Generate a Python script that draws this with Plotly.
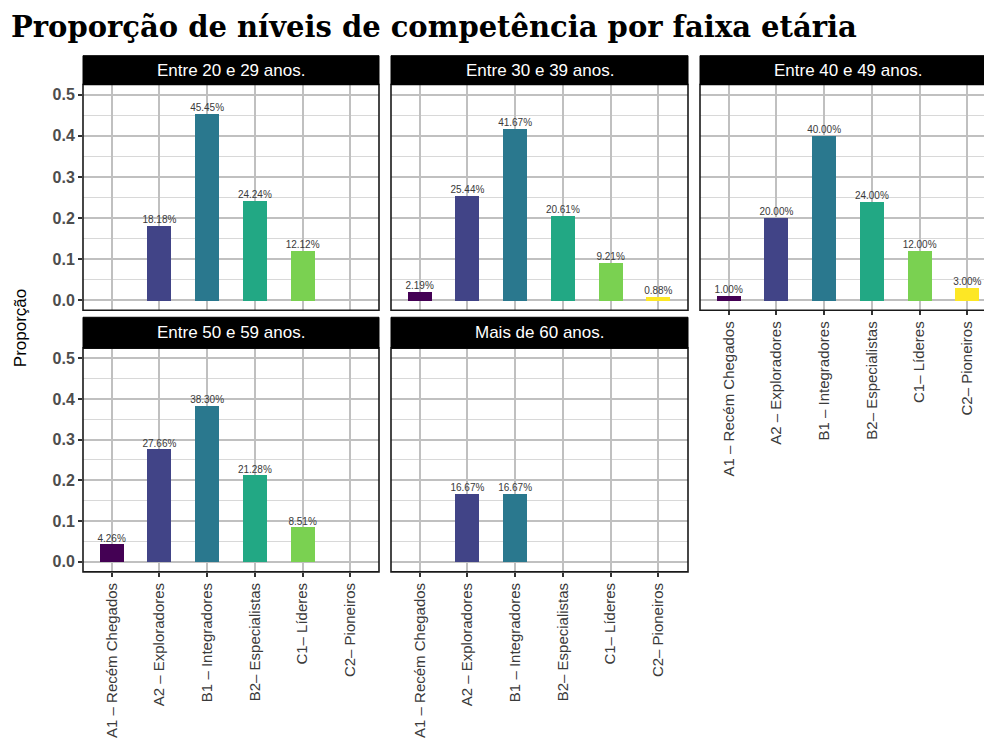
import plotly.graph_objects as go

# Competence levels (x categories) and the five age groups (facets)
niveis = ["A1 – Recém Chegados", "A2 – Exploradores", "B1 – Integradores",
          "B2– Especialistas", "C1– Líderes", "C2– Pioneiros"]
faixas = ["Entre 20 e 29 anos.", "Entre 30 e 39 anos.", "Entre 40 e 49 anos.",
          "Entre 50 e 59 anos.", "Mais de 60 anos."]

prop_20_29 = [None, 0.1818, 0.4545, 0.2424, 0.1212, None]
prop_30_39 = [0.0219, 0.2544, 0.4167, 0.2061, 0.0921, 0.0088]
prop_40_49 = [0.0100, 0.2000, 0.4000, 0.2400, 0.1200, 0.0300]
prop_50_59 = [0.0426, 0.2766, 0.3830, 0.2128, 0.0851, None]
prop_60_mais = [None, 0.1667, 0.1667, None, None, None]

series = [prop_20_29, prop_30_39, prop_40_49, prop_50_59, prop_60_mais]

y_ticks = [0.0, 0.1, 0.2, 0.3, 0.4, 0.5]
y_minor = [0.05, 0.15, 0.25, 0.35, 0.45]

cores = ["#440154", "#414487", "#2A788E", "#22A884", "#7AD151", "#FDE725"]

W, H = 984, 738
def fx(px):
    return px / W
def fy(py):
    return 1 - py / H

# panel geometry in pixels: (left, right, top, bottom)
col_x = [(83, 379), (391, 688), (700, 996)]
row_y = [(85, 312), (350, 575)]
strip_y = [(56, 85), (319, 350)]
layout_pos = [(0, 0), (0, 1), (0, 2), (1, 0), (1, 1)]

unit = (379 - 83) / 6.2  # pixels per category

fig = go.Figure()
shapes = []
annotations = []

xs = list(range(len(niveis)))

for i, (vals, nome) in enumerate(zip(series, faixas)):
    r, c = layout_pos[i]
    n = i + 1
    xa = "x" if n == 1 else f"x{n}"
    ya = "y" if n == 1 else f"y{n}"
    fig.add_trace(go.Bar(
        x=xs, y=vals, width=0.5, marker=dict(color=cores, line=dict(width=0)),
        xaxis=xa, yaxis=ya, hoverinfo="skip"))
    txt = [None if v is None else f"{v*100:.2f}%" for v in vals]
    fig.add_trace(go.Scatter(
        x=xs, y=vals, mode="text", text=txt, textposition="top center",
        textfont=dict(family="Liberation Sans", size=10, color="#3a3a3a"),
        xaxis=xa, yaxis=ya, hoverinfo="skip"))

    left, right = col_x[c]
    top, bottom = row_y[r]
    vis_right = min(right, W)
    x_max = -0.6 + (vis_right - left) / unit
    show_x_labels = (r == 1) or (c == 2)
    show_y_labels = (c == 0)

    fig.layout[f"xaxis{n}" if n > 1 else "xaxis"] = dict(
        domain=[fx(left), fx(vis_right)], anchor=ya, range=[-0.6, x_max],
        tickvals=xs, ticktext=niveis, tickangle=-90,
        showticklabels=show_x_labels,
        ticks="outside" if show_x_labels else "", ticklen=4, tickwidth=1.5,
        tickcolor="#333333",
        tickfont=dict(family="Liberation Sans", size=15, color="#3a3a3a"),
        showgrid=True, gridcolor="#c0c0c0", gridwidth=1.8,
        zeroline=False, showline=False, fixedrange=True)
    fig.layout[f"yaxis{n}" if n > 1 else "yaxis"] = dict(
        domain=[fy(bottom), fy(top)], anchor=xa, range=[-0.025, 0.525],
        tickvals=y_ticks, ticktext=[f"<b>{v:.1f}</b>" for v in y_ticks],
        showticklabels=show_y_labels,
        ticks="outside" if show_y_labels else "", ticklen=4, tickwidth=1.5,
        tickcolor="#333333",
        tickfont=dict(family="Liberation Sans", size=16, color="#4d4d4d"),
        showgrid=True, gridcolor="#c0c0c0", gridwidth=1.8,
        minor=dict(tickvals=y_minor, showgrid=True, gridcolor="#d8d8d8",
                   gridwidth=1.2, ticks=""),
        zeroline=False, showline=False, fixedrange=True)

    # panel border
    shapes.append(dict(type="rect", xref="paper", yref="paper",
                       x0=fx(left), x1=fx(right), y0=fy(bottom), y1=fy(top),
                       line=dict(color="#1a1a1a", width=1.6), layer="above"))
    # facet strip
    s_top, s_bot = strip_y[r]
    shapes.append(dict(type="rect", xref="paper", yref="paper",
                       x0=fx(left), x1=fx(right), y0=fy(s_bot), y1=fy(s_top),
                       fillcolor="#000000", line=dict(color="#000000", width=1),
                       layer="above"))
    annotations.append(dict(text=nome, xref="paper", yref="paper",
                            x=fx((left + right) / 2), y=fy((s_top + s_bot) / 2),
                            xanchor="center", yanchor="middle", showarrow=False,
                            font=dict(family="Liberation Sans", size=17,
                                      color="white")))

annotations.append(dict(text="Proporção", xref="paper", yref="paper",
                        x=fx(20), y=fy(330), textangle=-90, showarrow=False,
                        xanchor="center", yanchor="middle",
                        font=dict(family="Liberation Sans", size=17,
                                  color="#000000")))
annotations.append(dict(text="<b>Proporção de níveis de competência por faixa etária</b>",
                        xref="paper", yref="paper", x=fx(9), y=fy(27),
                        xanchor="left", yanchor="middle", showarrow=False,
                        font=dict(family="DejaVu Serif", size=29,
                                  color="#000000")))

fig.update_layout(width=W, height=H, margin=dict(l=0, r=0, t=0, b=0),
                  paper_bgcolor="white", plot_bgcolor="white",
                  showlegend=False, shapes=shapes, annotations=annotations,
                  bargap=0)

fig.write_html("out.html")
